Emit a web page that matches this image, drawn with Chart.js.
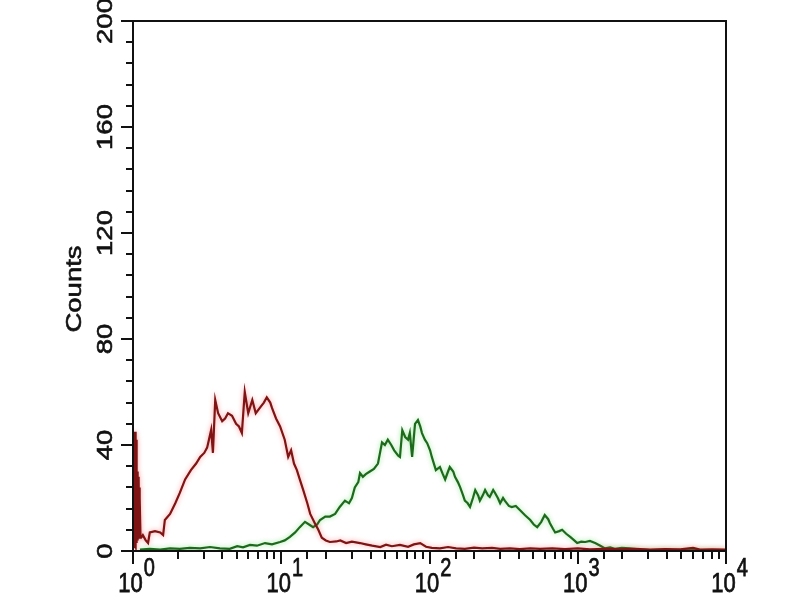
<!DOCTYPE html>
<html>
<head>
<meta charset="utf-8">
<script src="https://cdn.jsdelivr.net/npm/chart.js@4"></script>
<style>
  html, body { margin: 0; padding: 0; background: #fff; }
  #wrap { width: 800px; height: 600px; }
</style>
</head>
<body>
<div id="wrap"><canvas id="c" width="800" height="600"></canvas></div>
<script>
// channel positions (256 channels per decade) and counts
var redCh = [0, 0.5, 1, 1.5, 2, 2.5, 3, 3.5, 4, 4.5, 5, 5.5, 6, 6.5, 7, 7.5, 8, 8.5, 9, 9.5, 10, 10.5,
    11, 11.5, 12, 13, 14, 17, 22, 26, 29, 38, 47, 52, 55, 64, 73, 81, 90, 100,
    109, 116, 123, 128, 135, 138, 142, 147, 154, 159, 164, 171, 178, 183, 188, 193, 199, 206, 212, 219,
    226, 231, 237, 240, 247, 254, 262, 268, 273, 278, 283, 288, 294, 301, 306, 314, 320, 326, 333, 340,
    351, 358, 368, 378, 392, 402, 413, 427, 437, 447, 461, 475, 485, 496, 506, 516, 530, 544, 558, 573,
    589, 603, 620, 634, 651, 668, 686, 703, 724, 746, 768, 789, 815, 841, 867, 893, 919, 945, 967, 979,
    1000, 1024];
var redCounts = [44, 1, 45, 2, 45, 1, 44, 3, 45, 2, 43, 4, 42, 3, 30, 4, 29, 5, 28, 6, 27, 5,
    24, 6, 20, 5, 5, 6, 4, 3, 7, 7.5, 7, 6, 11.7, 14, 18, 22, 27, 30.5,
    33, 35.5, 37, 39, 45.7, 37, 57, 52, 49, 50, 52, 51, 48, 47, 44.5, 60, 52, 57, 52, 54,
    56, 58, 56, 54, 50, 47, 42, 35.5, 38, 33, 30.5, 27, 23, 18, 14, 10.5, 8, 5, 4, 3.4,
    3.6, 4, 3, 3.5, 3, 2.5, 2, 1.5, 2.4, 1.8, 2.3, 1.6, 2.5, 3, 1.6, 1.2, 1, 1.5, 1, 0.8,
    1.3, 1, 1.2, 0.8, 1, 0.7, 1, 0.8, 1, 0.7, 1, 0.6, 0.8, 0.6, 0.8, 0.5, 0.7, 0.6, 1.2, 0.5,
    0.6, 0.5];

var greenCh = [12, 29, 47, 64, 81, 98, 116, 133, 150, 167, 180, 190, 202, 214, 228, 240, 254, 262, 271,
    280, 288, 297, 304, 311, 318, 323, 332, 340, 349, 357, 366, 373, 378, 383, 389, 392, 397, 402, 409,
    416, 423, 430, 435, 440, 446, 451, 458, 461, 465, 470, 475, 478, 482, 487, 492, 496, 499, 504, 508,
    513, 516, 523, 530, 535, 539, 544, 547, 553, 556, 561, 565, 570, 573, 578, 582, 587, 591, 596, 599,
    604, 608, 613, 616, 622, 625, 630, 634, 639, 642, 649, 654, 661, 668, 677, 686, 692, 698, 705, 711,
    717, 720, 725, 729, 736, 741, 748, 755, 762, 767, 774, 781, 789, 798, 807, 815, 824, 832, 844, 858,
    875, 892, 919, 945, 979, 1024];
var greenCounts = [0.5, 0.8, 0.5, 1, 0.8, 1.2, 1, 1.5, 1, 0.8, 1.8, 1.4, 2.3, 2, 3, 2.5, 3.4, 4, 5.3,
    7, 9, 11, 10, 9, 10, 11.7, 13, 13, 14, 16.6, 19, 18, 20, 24, 26, 29.4, 28, 29, 30,
    31, 33, 41, 40, 42, 40, 38, 36, 35.5, 45.6, 43, 42, 44.5, 35.5, 48, 49.4, 47, 44.5, 42, 40.7,
    38, 35.5, 30.5, 31.7, 29, 27, 30, 31.7, 30, 28, 26, 24, 21, 19, 18, 16.6, 20, 23, 21, 19,
    21, 23, 21, 20.4, 23, 22, 20, 18, 20, 19, 17, 16.6, 17, 15.5, 13.5, 11.7, 10, 9, 11, 13.6,
    12, 10.5, 8.5, 7, 7.5, 8, 6.5, 5.3, 4, 3, 3.5, 3.4, 3.8, 3, 2, 1, 1.4, 0.8, 1.2, 1,
    0.5, 0.3, 0.4, 0.2, 0.3, 0.2];

var yTicks = [0, 40, 80, 120, 160, 200];
var xDecades = [0, 1, 2, 3, 4];
var yTitle = 'Counts';

var CH_PER_DECADE = 256;
var STRETCH = 1.25;   // the source picture is taller than its text

function toPoints(ch, counts) {
    var pts = [];
    for (var i = 0; i < ch.length; i++) {
        pts.push({x: Math.pow(10, ch[i] / CH_PER_DECADE), y: counts[i]});
    }
    return pts;
}

var FONT = '"Liberation Sans", Arial, sans-serif';

function inkText(ctx, str) {
    // a hair of stroke to mimic the heavier, blurred type of the source
    ctx.lineWidth = 0.6;
    ctx.strokeText(str, 0, 0);
    ctx.fillText(str, 0, 0);
}

// rotated, stretched text helper
function vText(ctx, str, x, y, size) {
    ctx.save();
    ctx.font = size + 'px ' + FONT;
    ctx.translate(x, y);
    ctx.rotate(-Math.PI / 2);
    ctx.scale(STRETCH, 1);
    ctx.textAlign = 'center';
    ctx.textBaseline = 'alphabetic';
    inkText(ctx, str);
    ctx.restore();
}

function hText(ctx, str, x, y, size) {
    ctx.save();
    ctx.font = size + 'px ' + FONT;
    ctx.translate(x, y);
    ctx.scale(1, STRETCH);
    ctx.textAlign = 'left';
    ctx.textBaseline = 'alphabetic';
    inkText(ctx, str);
    ctx.restore();
}

// frame, tick marks and labels drawn off the chart's own scales
var axesPlugin = {
    id: 'fcsAxes',
    beforeDatasetDraw: function(chart, args) {
        var ctx = chart.ctx;
        ctx.save();
        ctx.shadowBlur = 5;
        ctx.shadowColor = args.index === 0 ? 'rgba(255,40,40,0.45)' : 'rgba(40,200,40,0.45)';
    },
    afterDatasetDraw: function(chart) {
        chart.ctx.restore();
    },
    afterDraw: function(chart) {
        var ctx = chart.ctx, a = chart.chartArea;
        var xs = chart.scales.x, ys = chart.scales.y;
        ctx.save();
        ctx.strokeStyle = '#111';
        ctx.fillStyle = '#111';
        ctx.lineWidth = 2;
        ctx.strokeRect(a.left, a.top, a.right - a.left, a.bottom - a.top);

        // y ticks
        ys.ticks.forEach(function(t) {
            var y = Math.round(ys.getPixelForValue(t.value));
            var major = yTicks.indexOf(t.value) >= 0;
            ctx.lineWidth = 2;
            ctx.beginPath();
            ctx.moveTo(a.left - (major ? 12 : 7), y);
            ctx.lineTo(a.left, y);
            ctx.stroke();
        });
        yTicks.forEach(function(v) {
            vText(ctx, String(v), 112, ys.getPixelForValue(v), 22);
        });

        // x ticks
        xs.ticks.forEach(function(t) {
            var x = Math.round(xs.getPixelForValue(t.value));
            var e = Math.log10(t.value);
            var major = Math.abs(e - Math.round(e)) < 1e-9;
            ctx.lineWidth = 2;
            ctx.beginPath();
            ctx.moveTo(x, a.bottom);
            ctx.lineTo(x, a.bottom + (major ? 13 : 8));
            ctx.stroke();
        });
        xDecades.forEach(function(d) {
            var x = xs.getPixelForValue(Math.pow(10, d));
            ctx.font = '22px ' + FONT;
            var wb = ctx.measureText('10').width;
            ctx.font = '20px ' + FONT;
            var we = ctx.measureText(String(d)).width;
            var x0 = x - (wb + we) / 2 + 3;
            hText(ctx, '10', x0, 592, 22);
            hText(ctx, String(d), x0 + wb + 1, 576, 20);
        });

        // axis title
        vText(ctx, yTitle, 81, 289, 22);
        ctx.restore();
    }
};

var chart = new Chart(document.getElementById('c').getContext('2d'), {
    type: 'line',
    data: {
        datasets: [
            {
                label: 'control',
                data: toPoints(redCh, redCounts),
                borderColor: '#7e1414',
                borderWidth: 2.2,
                pointRadius: 0,
                tension: 0,
                fill: false
            },
            {
                label: 'stained',
                data: toPoints(greenCh, greenCounts),
                borderColor: '#1d6a1d',
                borderWidth: 2.2,
                pointRadius: 0,
                tension: 0,
                fill: false
            }
        ]
    },
    options: {
        responsive: false,
        animation: false,
        layout: { padding: { left: 133, right: 74, top: 21, bottom: 49 } },
        plugins: { legend: { display: false }, tooltip: { enabled: false } },
        scales: {
            x: {
                type: 'logarithmic',
                min: 1,
                max: 10000,
                grid: { display: false, drawTicks: false },
                border: { display: false },
                ticks: { display: false }
            },
            y: {
                type: 'linear',
                min: 0,
                max: 200,
                grid: { display: false, drawTicks: false },
                border: { display: false },
                ticks: { display: false, stepSize: 8 }
            }
        }
    },
    plugins: [axesPlugin]
});
</script>
</body>
</html>
